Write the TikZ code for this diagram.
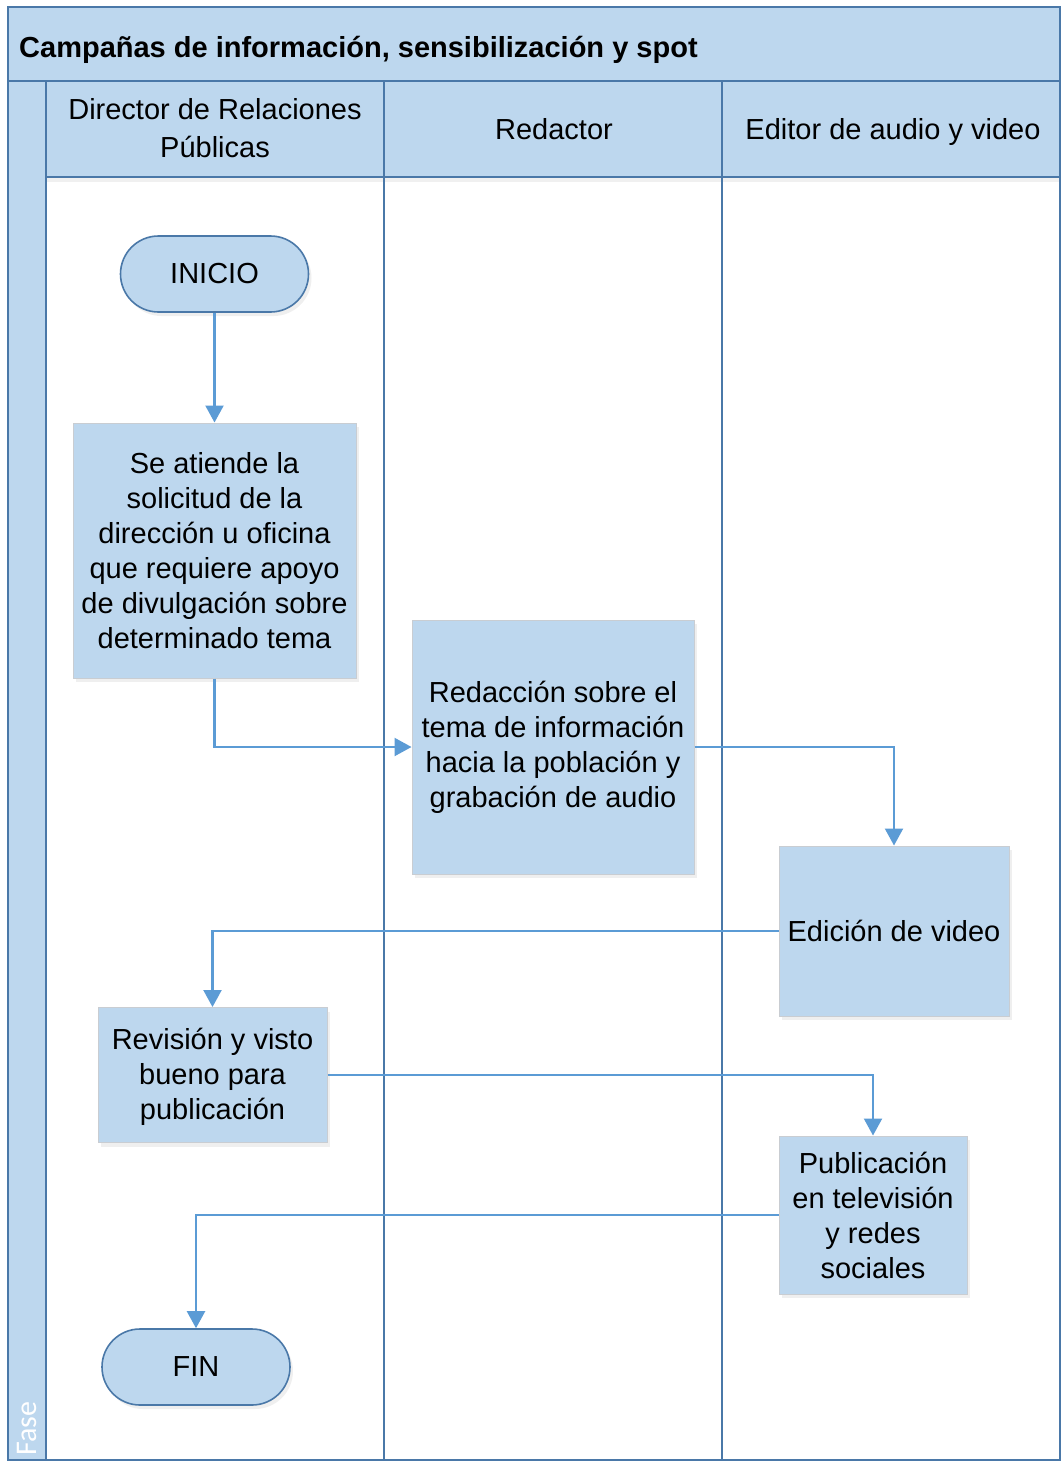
\documentclass[tikz,border=0pt]{standalone}
\usepackage{fontspec}
\setmainfont{Liberation Sans}
\newfontfamily\fasefont{Carlito}
\usetikzlibrary{arrows.meta,shadows,positioning}
\definecolor{lanefill}{HTML}{BDD7EE}
\definecolor{frameline}{HTML}{4A78A8}
\definecolor{flowline}{HTML}{5B9BD5}
\definecolor{boxedge}{HTML}{C9CDD2}
\begin{document}
\begin{tikzpicture}[x=1pt,y=-1pt,
  frame/.style={draw=frameline,line width=2.2pt},
  band/.style={fill=lanefill},
  txt/.style={font=\fontsize{29}{35}\selectfont,align=center,inner sep=0pt},
  procbox/.style={txt,rectangle,fill=lanefill,draw=boxedge,line width=1pt,
    drop shadow={opacity=0.12,shadow xshift=3pt,shadow yshift=-4pt}},
  termbox/.style={txt,rectangle,fill=lanefill,draw=frameline,line width=1.6pt,
    minimum width=188pt,minimum height=76pt,rounded corners=38pt,
    drop shadow={opacity=0.12,shadow xshift=3pt,shadow yshift=-4pt}},
  flow/.style={draw=flowline,line width=2.2pt,-{Triangle[width=18pt,length=17pt]}}
]
\useasboundingbox (0,0) rectangle (1061,1461);
\fill[white] (0,0) rectangle (1061,1461);

% title band, phase column and lane headers
\path[band] (8,7) rectangle (1060,81);
\path[band] (8,81) rectangle (46,1460);
\path[band] (46,81) rectangle (1060,177);
\fill[black,opacity=0.06] (46,177) rectangle (1060,182);

% frame and lane separators
\draw[frame] (8,7) rectangle (1060,1460);
\draw[frame] (8,81) -- (1060,81);
\draw[frame] (46,177) -- (1060,177);
\draw[frame] (46,81) -- (46,1460);
\draw[frame] (384,81) -- (384,1460);
\draw[frame] (722,81) -- (722,1460);

% titles
\node[anchor=west,inner sep=0pt,font=\bfseries\fontsize{29}{32}\selectfont] (title) at (19,50) {Campañas de información, sensibilización y spot};
\node[txt,font=\fontsize{29}{38}\selectfont] (laneA) at (215,128) {Director de Relaciones\\Públicas};
\node[txt] (laneB) at (554,129) {Redactor};
\node[txt] (laneC) at (893,132) {Editor de audio y video};
\node[anchor=west,inner sep=0pt,rotate=90,text=white,font=\fasefont\fontsize{30}{32}\selectfont] (fase) at (27,1456) {Fase};

% flow nodes
\node[termbox] (inicio) at (214.5,274) {INICIO};
\node[procbox,minimum width=283pt,minimum height=255pt] (atiende) at (214.5,550.5)
  {Se atiende la\\solicitud de la\\dirección u oficina\\que requiere apoyo\\de divulgación sobre\\determinado tema};
\node[procbox,minimum width=282pt,minimum height=254pt] (redaccion) at (553,747)
  {Redacción sobre el\\tema de información\\hacia la población y\\grabación de audio};
\node[procbox,minimum width=230pt,minimum height=170pt] (edicion) at (894,931) {Edición de video};
\node[procbox,minimum width=229pt,minimum height=135pt,text depth=3pt] (revision) at (212.5,1075)
  {Revisión y visto\\bueno para\\publicación};
\node[procbox,minimum width=188pt,minimum height=158pt] (publicacion) at (873,1215)
  {Publicación\\en televisión\\y redes\\sociales};
\node[termbox] (fin) at (196,1367) {FIN};

% connectors
\draw[flow] (inicio) -- (atiende);
\draw[flow] (atiende.south) |- (redaccion.west);
\draw[flow] (redaccion.east) -| (edicion.north);
\draw[flow] (edicion.west) -| (revision.north);
\draw[flow] (revision.east) -| (publicacion.north);
\draw[flow] (publicacion.west) -| (fin.north);
\end{tikzpicture}
\end{document}
